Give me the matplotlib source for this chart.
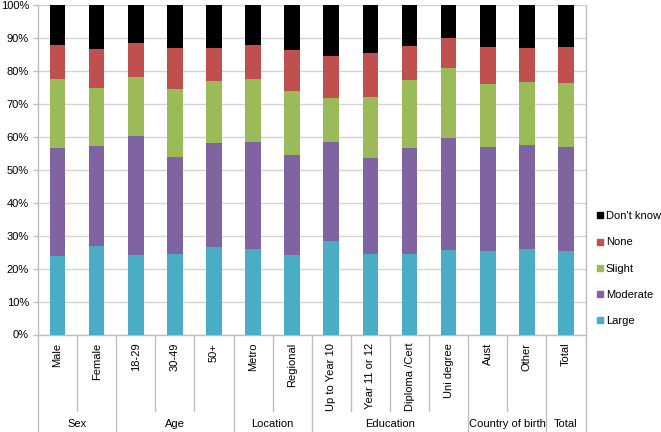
import matplotlib
matplotlib.use("Agg")
import matplotlib.pyplot as plt
from matplotlib.lines import Line2D
import numpy as np

plt.rcParams['font.family'] = ['Liberation Sans', 'DejaVu Sans']

categories = ["Male", "Female", "18-29", "30-49", "50+", "Metro", "Regional",
              "Up to Year 10", "Year 11 or 12", "Diploma /Cert", "Uni degree",
              "Aust", "Other", "Total"]
groups = ["Sex", "Age", "Location", "Education", "Country of birth", "Total"]
group_sizes = [2, 3, 2, 4, 2, 1]

large    = [23.9, 26.8, 24.2, 24.4, 26.6, 26.0, 24.1, 28.5, 24.4, 24.4, 25.7, 25.2, 25.9, 25.4]
moderate = [32.8, 30.5, 36.0, 29.4, 31.5, 32.4, 30.4, 29.9, 29.1, 32.3, 33.9, 31.7, 31.6, 31.6]
slight   = [20.8, 17.6, 17.8, 20.7, 18.8, 19.1, 19.5, 13.4, 18.7, 20.5, 21.4, 19.2, 19.0, 19.3]
none     = [10.3, 11.7, 10.6, 12.3, 9.9, 10.3, 12.2, 12.7, 13.1, 10.5, 9.0, 11.3, 10.4, 10.9]
dontknow = [12.2, 13.4, 11.4, 13.2, 13.2, 12.2, 13.8, 15.5, 14.7, 12.3, 10.0, 12.6, 13.1, 12.8]

series = [("Large", large, "#4BACC6"),
          ("Moderate", moderate, "#8064A2"),
          ("Slight", slight, "#9BBB59"),
          ("None", none, "#C0504D"),
          ("Don't know", dontknow, "#000000")]

W, H = 661, 432
fig = plt.figure(figsize=(W / 100, H / 100), dpi=100)
ax = fig.add_axes([38 / W, (H - 334.5) / H, 547.5 / W, 329.5 / H])

x = np.arange(len(categories))
bottom = np.zeros(len(categories))
for name, vals, col in series:
    v = np.array(vals)
    ax.bar(x, v, bottom=bottom, width=0.4, color=col, zorder=3, label=name)
    bottom += v

ax.set_xlim(-0.5, len(categories) - 0.5)
ax.set_ylim(0, 100)
ax.set_yticks(np.arange(0, 101, 10))
ax.set_yticklabels([f"{v}%" for v in range(0, 101, 10)], fontsize=8)
ax.yaxis.grid(True, color="#D4D4D4", linewidth=1, zorder=0)
ax.tick_params(axis='y', length=3.5, width=1, color="#BFBFBF", pad=3)

ax.set_xticks(x)
ax.set_xticklabels(categories, rotation=90, fontsize=8, va='top')
ax.tick_params(axis='x', length=0, pad=6)

for s in ["left", "right", "bottom"]:
    ax.spines[s].set_color("#BFBFBF")
    ax.spines[s].set_linewidth(1)
ax.spines["top"].set_visible(False)

# separators below axis
trans = ax.get_xaxis_transform()
short_y = -(411 - 334.5) / 329.5
long_y = -(432 - 334.5) / 329.5
boundaries = np.cumsum([0] + group_sizes)
group_edges = set(boundaries.tolist())
for i in range(len(categories) + 1):
    xb = i - 0.5
    yend = long_y if i in group_edges else short_y
    ax.plot([xb, xb], [0, yend], transform=trans, color="#BFBFBF",
            linewidth=1, clip_on=False, zorder=1)

label_y = -(424 - 334.5) / 329.5
for g, a, b in zip(groups, boundaries[:-1], boundaries[1:]):
    ax.text((a + b - 1) / 2, label_y, g, transform=trans, ha='center',
            va='center', fontsize=8)

handles = [Line2D([], [], marker='s', linestyle='', markersize=5,
                  markerfacecolor=col, markeredgecolor=col)
           for _, _, col in series][::-1]
labels = [name for name, _, _ in series][::-1]
fig.legend(handles, labels, loc='center left',
           bbox_to_anchor=(592 / W, 1 - 268.5 / H), frameon=False,
           fontsize=8, handlelength=0.5, handletextpad=0.25,
           labelspacing=1.45, borderpad=0)

fig.savefig("out.png", dpi=100)
